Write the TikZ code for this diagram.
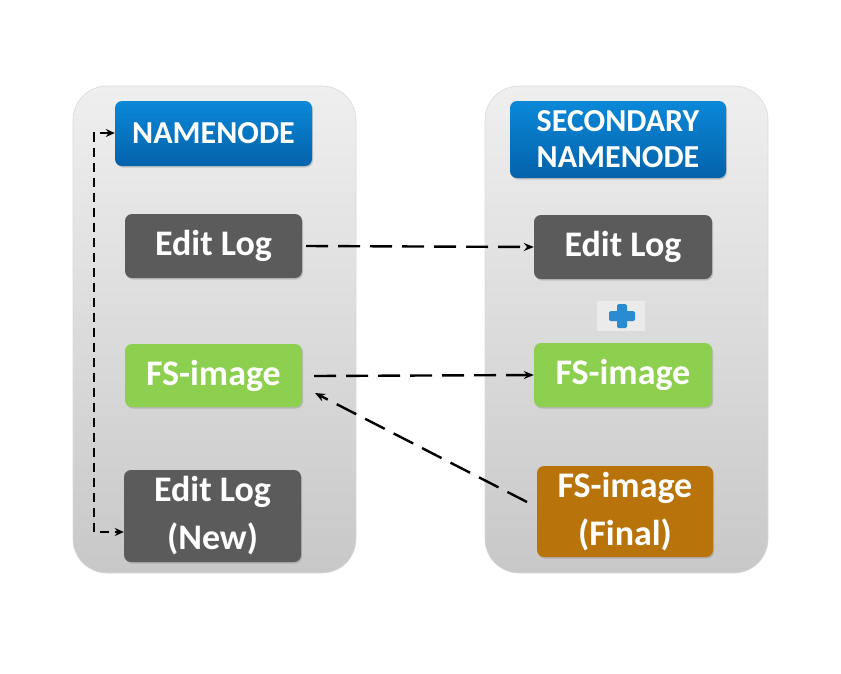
\documentclass[tikz,border=0pt]{standalone}
\usepackage{fontspec}
\setmainfont{Carlito}
\usetikzlibrary{arrows.meta,shadows}
\definecolor{panelTop}{HTML}{EFEFEF}
\definecolor{panelBot}{HTML}{C8C8C8}
\definecolor{blueTop}{HTML}{0A88D8}
\definecolor{blueBot}{HTML}{0462AA}
\definecolor{darkbox}{HTML}{5B5B5B}
\definecolor{greenbox}{HTML}{8DCF4F}
\definecolor{orangebox}{HTML}{B8730A}
\definecolor{plusblue}{HTML}{2A8BD0}
\tikzset{
  panel/.style={rounded corners=34pt, top color=panelTop, bottom color=panelBot, draw=white!85!black, line width=0.6pt},
  box/.style={rounded corners=7pt, text=white, font=\bfseries\fontsize{36}{48}\selectfont, align=center, inner sep=0pt,
    drop shadow={shadow xshift=1pt, shadow yshift=-1.5pt, opacity=0.35}},
  bluebox/.style={box, top color=blueTop, bottom color=blueBot, font=\bfseries\fontsize{32}{36}\selectfont},
  graybox/.style={box, fill=darkbox},
  greenbox/.style={box, fill=greenbox},
  orangebox/.style={box, fill=orangebox},
  longdash/.style={line width=2.4pt, dash pattern=on 22pt off 10pt, -{Stealth[length=10pt,width=8pt]}},
  shortdash/.style={line width=2.4pt, dash pattern=on 9pt off 6pt, {Stealth[length=9pt,width=8pt]}-{Stealth[length=9pt,width=8pt]}},
}
\begin{document}
\begin{tikzpicture}[x=1pt,y=-1pt]
\useasboundingbox (0,0) rectangle (841,673);
% panels
\node[panel, minimum width=283pt, minimum height=487pt] (lp) at (214.5,329.5) {};
\node[panel, minimum width=283pt, minimum height=487pt] (rp) at (626.5,329.5) {};
% left boxes
\node[bluebox, minimum width=197pt, minimum height=65pt] (nn) at (213.5,133.5) {NAMENODE};
\node[graybox, minimum width=177pt, minimum height=64pt] (el) at (213.5,246) {Edit Log};
\node[greenbox, minimum width=177pt, minimum height=63pt] (fs) at (213.5,375.5) {FS-image};
\node[graybox, minimum width=177pt, minimum height=92pt] (eln) at (212.5,516) {Edit Log\\(New)};
% right boxes
\node[bluebox, minimum width=216pt, minimum height=77pt] (snn) at (618,139.5) {SECONDARY\\NAMENODE};
\node[graybox, minimum width=178pt, minimum height=64pt] (rel) at (623,247) {Edit Log};
\node[greenbox, minimum width=178pt, minimum height=64pt] (rfs) at (623,375) {FS-image};
\node[orangebox, minimum width=176pt, minimum height=91pt] (fin) at (625,511.5) {FS-image\\(Final)};
% plus sign
\node[fill=white!92!black, minimum width=48pt, minimum height=30pt, inner sep=0pt] (plusbg) at (621,316) {};
\fill[plusblue, rounded corners=1.5pt] (617,304) rectangle (627,328);
\fill[plusblue, rounded corners=1.5pt] (609,311) rectangle (635,321);
% arrows
\coordinate (a1s) at (306,246);
\draw[longdash] (a1s) -- (rel.west);
\coordinate (a2s) at (314,376);
\draw[longdash] (a2s) -- (rfs.west);
\coordinate (a3s) at (527,502);
\coordinate (a3e) at (315,393);
\draw[longdash] (a3s) -- (a3e);
\coordinate (c1) at (94,133);
\coordinate (c2) at (94,532);
\draw[shortdash] (nn.west |- c1) -- (c1) -- (c2) -- (eln.west |- c2);
\end{tikzpicture}
\end{document}
